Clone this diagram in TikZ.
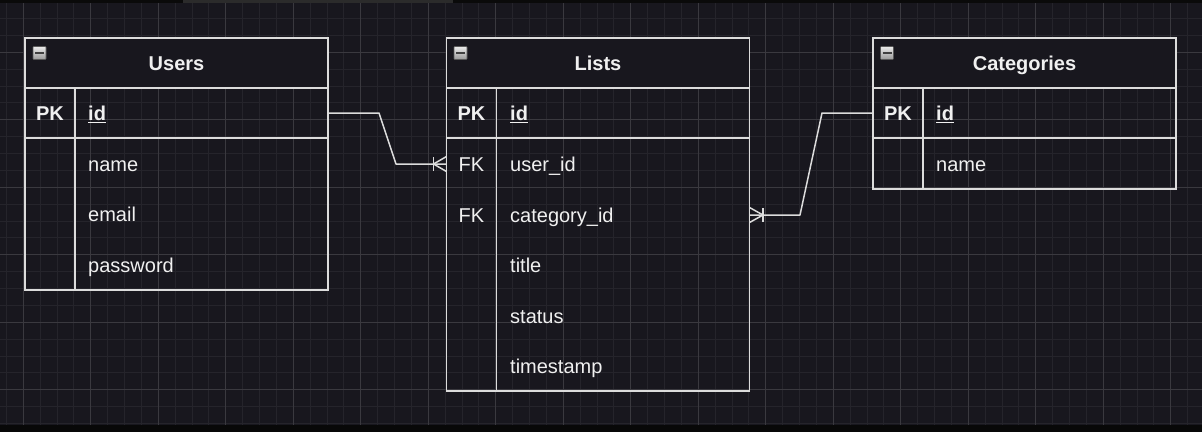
\documentclass[tikz,border=0pt]{standalone}
\usepackage{fontspec}
\setmainfont{Liberation Sans}
\definecolor{bg}{HTML}{18171E}
\definecolor{gminor}{HTML}{25242B}
\definecolor{gmajor}{HTML}{3A393F}
\definecolor{edge}{HTML}{DCDCDC}
\definecolor{txt}{HTML}{F0F0F0}
\begin{document}
\begin{tikzpicture}[x=1pt,y=-1pt,
  ln/.style={draw=edge, line width=1.5pt},
  box/.style={draw=edge, line width=1.5pt, rectangle, inner sep=0pt, outer sep=0pt, minimum width=303pt},
  hdr/.style={box, fill=bg, minimum height=50pt, text=txt, text height=14.4pt, text depth=0pt, font=\fontsize{20}{24}\selectfont\bfseries},
  keytxt/.style={text=txt, inner sep=0pt, text height=14.4pt, text depth=0pt, font=\fontsize{20}{24}\selectfont\bfseries},
  fld/.style={text=txt, inner sep=0pt, anchor=base west, font=\fontsize{20}{24}\selectfont},
  pkfld/.style={fld, font=\fontsize{20}{24}\selectfont\bfseries},
  icon/.style={draw=gray!70!black, line width=0.6pt, top color=white!92!black, bottom color=white!60!black, minimum size=13pt, inner sep=0pt, rounded corners=0.8pt},
  minusbar/.style={draw=black!75, line width=2.4pt}
]
\useasboundingbox (0,0) rectangle (1202,432);
\fill[bg] (0,0) rectangle (1202,432);
% grid
\foreach \k in {0,...,71} \draw[gminor, line width=1pt] ({6.425+16.875*\k},0) -- ++(0,432);
\foreach \k in {0,...,25} \draw[gminor, line width=1pt] (0,{1.675+16.875*\k}) -- ++(1202,0);
\foreach \k in {0,...,17} \draw[gmajor, line width=1pt] ({23.3+67.5*\k},0) -- ++(0,432);
\foreach \k in {0,...,5} \draw[gmajor, line width=1pt] (0,{52.3+67.5*\k}) -- ++(1202,0);
% screen bands
\fill[black!96] (0,0) rectangle (1202,3);
\fill[black!83] (183,0) rectangle (453,3);
\fill[black!97] (0,425) rectangle (1202,432);

% ---------- Users ----------
\node[hdr] (uhead) at (176.5,63) {Users};
\node[box, minimum height=50pt] (urow) at (176.5,113) {};
\node[box, minimum height=152pt] (ubody) at (176.5,214) {};
\draw[ln] ([xshift=50pt]urow.north west) -- ([xshift=50pt]ubody.south west);
\node[icon] (uicon) at (39.5,53) {};
\draw[minusbar] ([xshift=-4.5pt]uicon.center) -- ([xshift=4.5pt]uicon.center);
\node[keytxt] (upk) at (50,113) {PK};
\node[pkfld] (uid) at (88,120.5) {\underline{id}};
\node[fld] (uname) at (88,171) {name};
\node[fld] (uemail) at (88,221.5) {email};
\node[fld] (upass) at (88,272) {password};

% ---------- Lists ----------
\node[hdr] (lhead) at (598,63) {Lists};
\node[box, minimum height=50pt] (lrow) at (598,113) {};
\node[box, minimum height=253pt] (lbody) at (598,264.5) {};
\draw[ln] ([xshift=50pt]lrow.north west) -- ([xshift=50pt]lbody.south west);
\node[icon] (licon) at (460.5,53) {};
\draw[minusbar] ([xshift=-4.5pt]licon.center) -- ([xshift=4.5pt]licon.center);
\node[keytxt] (lpk) at (471.5,113) {PK};
\node[pkfld] (lid) at (510,120.5) {\underline{id}};
\node[keytxt] (lfk1) at (471.5,164) {\mdseries FK};
\node[keytxt] (lfk2) at (471.5,215) {\mdseries FK};
\node[fld] (luser) at (510,171) {user\_id};
\node[fld] (lcat) at (510,222) {category\_id};
\node[fld] (ltitle) at (510,272) {title};
\node[fld] (lstatus) at (510,323) {status};
\node[fld] (ltime) at (510,373) {timestamp};

% ---------- Categories ----------
\node[hdr] (chead) at (1024.5,63) {Categories};
\node[box, minimum height=50pt] (crow) at (1024.5,113) {};
\node[box, minimum height=51pt] (cbody) at (1024.5,163.5) {};
\draw[ln] ([xshift=50pt]crow.north west) -- ([xshift=50pt]cbody.south west);
\node[icon] (cicon) at (887,53) {};
\draw[minusbar] ([xshift=-4.5pt]cicon.center) -- ([xshift=4.5pt]cicon.center);
\node[keytxt] (cpk) at (898,113) {PK};
\node[pkfld] (cid) at (936,120.5) {\underline{id}};
\node[fld] (cname) at (936,171) {name};

% ---------- connectors ----------
\coordinate (luj) at (lbody.west |- 0,164);
\coordinate (lcj) at (lbody.east |- 0,215);
\draw[ln, line join=round] (urow.east) -- (379,113) -- (396,164) -- (luj);
\draw[ln] ([xshift=-13pt,yshift=7pt]luj) -- ([xshift=-13pt,yshift=-7pt]luj);
\draw[ln, line join=round] ([yshift=7.5pt]luj) -- ([xshift=-13pt]luj) -- ([yshift=-7.5pt]luj);

\draw[ln, line join=round] (crow.west) -- (822,113) -- (800,215) -- (lcj);
\draw[ln] ([xshift=13.5pt,yshift=7pt]lcj) -- ([xshift=13.5pt,yshift=-7pt]lcj);
\draw[ln, line join=round] ([yshift=7.5pt]lcj) -- ([xshift=13.5pt]lcj) -- ([yshift=-7.5pt]lcj);
\end{tikzpicture}
\end{document}
